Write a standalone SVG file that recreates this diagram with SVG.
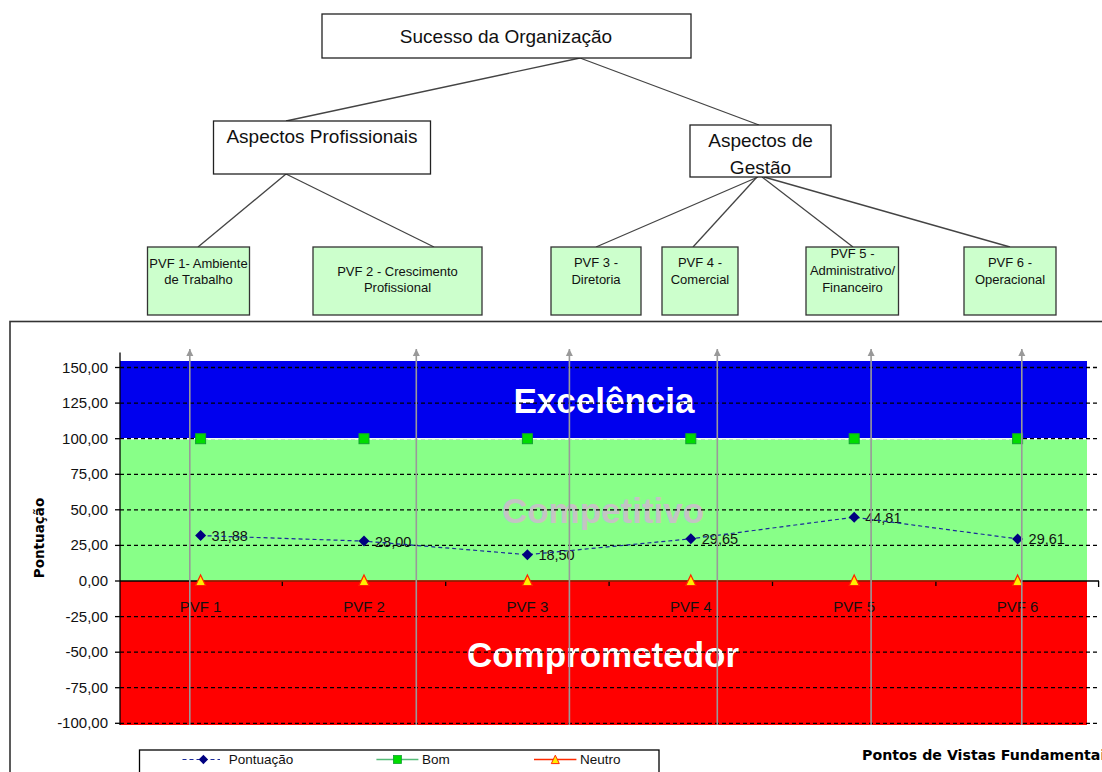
<svg xmlns="http://www.w3.org/2000/svg" width="1102" height="772" viewBox="0 0 1102 772">
  <style>
    .box { fill: #ffffff; stroke: #222; stroke-width: 1.3; }
    .pvf { fill: #ccffcc; stroke: #333; stroke-width: 1.3; }
    .t19 { font-family: "Liberation Sans", Arial, sans-serif; font-size: 19px; fill: #111; text-anchor: middle; }
    .t13 { font-family: "Liberation Sans", Arial, sans-serif; font-size: 13px; fill: #111; text-anchor: middle; }
    .edge { stroke: #444; stroke-width: 1.3; fill: none; }
    .grid { stroke: #000; stroke-width: 1.3; stroke-dasharray: 4 3; }
    .ylab { font-family: "Liberation Sans", Arial, sans-serif; font-size: 15px; fill: #111; text-anchor: end; }
    .xlab { font-family: "Liberation Sans", Arial, sans-serif; font-size: 15px; fill: #111; text-anchor: middle; }
    .vlab { font-family: "Liberation Sans", Arial, sans-serif; font-size: 14.5px; fill: #111; }
    .band { font-family: "Liberation Sans", Arial, sans-serif; font-size: 35px; font-weight: bold; text-anchor: middle; }
    .guide { stroke: #999; stroke-width: 1.6; marker-end: url(#up); }
    .leg { font-family: "Liberation Sans", Arial, sans-serif; font-size: 13.5px; fill: #111; }
    .ttl { font-family: "DejaVu Sans", Verdana, sans-serif; font-size: 13.5px; font-weight: bold; fill: #000; }
  </style>
  <defs>
    <marker id="up" viewBox="0 0 10 10" refX="10" refY="5" markerUnits="userSpaceOnUse" markerWidth="7" markerHeight="8" orient="auto">
      <path d="M0,0 L10,5 L0,10 z" fill="#999"/>
    </marker>
    <path id="dia" d="M0,-5.5 L5.5,0 L0,5.5 L-5.5,0 z" fill="#000080"/>
    <rect id="sq" x="-5" y="-5" width="10" height="10" fill="#00dd00" stroke="#10a030" stroke-width="1"/>
    <path id="tri" d="M0,-6 L5,4.5 L-5,4.5 z" fill="#ffee00" stroke="#ff2200" stroke-width="1.2"/>
  </defs>

  <rect width="1102" height="772" fill="#ffffff"/>

  <!-- hierarchy connectors -->
  <g id="connectors">
    <line class="edge" x1="580" y1="58" x2="286" y2="121"/>
    <line class="edge" x1="580" y1="58" x2="759" y2="125"/>
    <line class="edge" x1="286" y1="174" x2="198" y2="247"/>
    <line class="edge" x1="286" y1="174" x2="434" y2="247"/>
    <line class="edge" x1="758" y1="177" x2="596" y2="247"/>
    <line class="edge" x1="757" y1="177" x2="693" y2="247"/>
    <line class="edge" x1="762" y1="177" x2="853" y2="247"/>
    <line class="edge" x1="764" y1="177" x2="1010" y2="247"/>
  </g>

  <g id="sucesso">
    <rect class="box" x="322" y="14" width="369" height="44"/>
    <text class="t19" x="506" y="43">Sucesso da Organização</text>
  </g>
  <g id="aspectos-profissionais">
    <rect class="box" x="213.5" y="121" width="217" height="53"/>
    <text class="t19" x="322" y="143">Aspectos Profissionais</text>
  </g>
  <g id="aspectos-gestao">
    <rect class="box" x="690" y="125" width="141" height="52"/>
    <text class="t19" x="760.5" y="147">Aspectos de</text>
    <text class="t19" x="760.5" y="174">Gestão</text>
  </g>

  <g id="pvf1">
    <rect class="pvf" x="147.5" y="247" width="102" height="68"/>
    <text class="t13" x="198.5" y="268">PVF 1- Ambiente</text>
    <text class="t13" x="198.5" y="284">de Trabalho</text>
  </g>
  <g id="pvf2">
    <rect class="pvf" x="313" y="247" width="169" height="68"/>
    <text class="t13" x="397.5" y="276">PVF 2 - Crescimento</text>
    <text class="t13" x="397.5" y="292">Profissional</text>
  </g>
  <g id="pvf3">
    <rect class="pvf" x="551" y="247" width="90" height="68"/>
    <text class="t13" x="596" y="267">PVF 3 -</text>
    <text class="t13" x="596" y="284">Diretoria</text>
  </g>
  <g id="pvf4">
    <rect class="pvf" x="662" y="247" width="76" height="68"/>
    <text class="t13" x="700" y="267">PVF 4 -</text>
    <text class="t13" x="700" y="284">Comercial</text>
  </g>
  <g id="pvf5">
    <rect class="pvf" x="806" y="247" width="92.5" height="68"/>
    <text class="t13" x="852.5" y="258">PVF 5 -</text>
    <text class="t13" x="852.5" y="275">Administrativo/</text>
    <text class="t13" x="852.5" y="292">Financeiro</text>
  </g>
  <g id="pvf6">
    <rect class="pvf" x="964" y="247" width="92" height="68"/>
    <text class="t13" x="1010" y="267">PVF 6 -</text>
    <text class="t13" x="1010" y="284">Operacional</text>
  </g>

  <!-- chart frame -->
  <rect x="10" y="321.5" width="1110" height="470" fill="none" stroke="#333" stroke-width="1.6"/>

  <!-- zone bands -->
  <g id="bands">
    <rect x="120" y="361" width="967" height="77.7" fill="#0000ee"/>
    <rect x="120" y="438.7" width="967" height="142.3" fill="#88ff88"/>
    <rect x="120" y="581" width="967" height="144" fill="#ff0000"/>
    <text class="band" x="604" y="413" fill="#ffffff">Excelência</text>
    <text class="band" x="603" y="523" fill="#c4c4c4">Competitivo</text>
    <text class="band" x="603" y="667" fill="#ffffff">Comprometedor</text>
  </g>

  <!-- grid and axes -->
  <g id="grid">
    <line x1="120" y1="438.7" x2="1087" y2="438.7" stroke="#ffffff" stroke-width="1.6"/>
    <line class="grid" x1="120" y1="367.5" x2="1099" y2="367.5"/>
    <line class="grid" x1="120" y1="403.1" x2="1099" y2="403.1"/>
    <line class="grid" x1="120" y1="438.7" x2="1099" y2="438.7"/>
    <line class="grid" x1="120" y1="474.3" x2="1099" y2="474.3"/>
    <line class="grid" x1="120" y1="509.8" x2="1099" y2="509.8"/>
    <line class="grid" x1="120" y1="545.4" x2="1099" y2="545.4"/>
    <line class="grid" x1="120" y1="616.6" x2="1099" y2="616.6"/>
    <line class="grid" x1="120" y1="652.2" x2="1099" y2="652.2"/>
    <line class="grid" x1="120" y1="687.7" x2="1099" y2="687.7"/>
    <line class="grid" x1="120" y1="723.3" x2="1099" y2="723.3"/>
    <line x1="200.6" y1="438.7" x2="1017.6" y2="438.7" stroke="#f2fff2" stroke-width="1.6"/>
    <!-- axes -->
    <line x1="120" y1="352.5" x2="120" y2="725" stroke="#000" stroke-width="1.3"/>
    <line x1="120" y1="581" x2="1099" y2="581" stroke="#000" stroke-width="1.3"/>
    <line x1="1098.6" y1="581" x2="1098.6" y2="587" stroke="#000" stroke-width="1.3"/>
    <g stroke="#000" stroke-width="1.3">
      <line x1="115" y1="367.5" x2="120" y2="367.5"/>
      <line x1="115" y1="403.1" x2="120" y2="403.1"/>
      <line x1="115" y1="438.7" x2="120" y2="438.7"/>
      <line x1="115" y1="474.3" x2="120" y2="474.3"/>
      <line x1="115" y1="509.8" x2="120" y2="509.8"/>
      <line x1="115" y1="545.4" x2="120" y2="545.4"/>
      <line x1="115" y1="581" x2="120" y2="581"/>
      <line x1="115" y1="616.6" x2="120" y2="616.6"/>
      <line x1="115" y1="652.2" x2="120" y2="652.2"/>
      <line x1="115" y1="687.7" x2="120" y2="687.7"/>
      <line x1="115" y1="723.3" x2="120" y2="723.3"/>
      <line x1="282.3" y1="581" x2="282.3" y2="586"/>
      <line x1="445.7" y1="581" x2="445.7" y2="586"/>
      <line x1="609.1" y1="581" x2="609.1" y2="586"/>
      <line x1="772.5" y1="581" x2="772.5" y2="586"/>
      <line x1="935.9" y1="581" x2="935.9" y2="586"/>
    </g>
  </g>

  <g id="y-labels">
    <text class="ylab" x="108" y="372.5">150,00</text>
    <text class="ylab" x="108" y="408.1">125,00</text>
    <text class="ylab" x="108" y="443.7">100,00</text>
    <text class="ylab" x="108" y="479.3">75,00</text>
    <text class="ylab" x="108" y="514.8">50,00</text>
    <text class="ylab" x="108" y="550.4">25,00</text>
    <text class="ylab" x="108" y="586">0,00</text>
    <text class="ylab" x="108" y="621.6">-25,00</text>
    <text class="ylab" x="108" y="657.2">-50,00</text>
    <text class="ylab" x="108" y="692.7">-75,00</text>
    <text class="ylab" x="108" y="728.3">-100,00</text>
    <text class="ttl" transform="translate(44,538) rotate(-90)" text-anchor="middle">Pontuação</text>
  </g>

  <g id="x-labels">
    <text class="xlab" x="200.6" y="612">PVF 1</text>
    <text class="xlab" x="364" y="612">PVF 2</text>
    <text class="xlab" x="527.4" y="612">PVF 3</text>
    <text class="xlab" x="690.8" y="612">PVF 4</text>
    <text class="xlab" x="854.2" y="612">PVF 5</text>
    <text class="xlab" x="1017.6" y="612">PVF 6</text>
  </g>

  <!-- Neutro series (0) -->
  <g id="neutro">
    <line x1="200.6" y1="581" x2="1017.6" y2="581" stroke="#ff2a00" stroke-width="1.2"/>
    <use href="#tri" x="200.6" y="581"/>
    <use href="#tri" x="364" y="581"/>
    <use href="#tri" x="527.4" y="581"/>
    <use href="#tri" x="690.8" y="581"/>
    <use href="#tri" x="854.2" y="581"/>
    <use href="#tri" x="1017.6" y="581"/>
  </g>

  <!-- Bom series (100) -->
  <g id="bom">
    <use href="#sq" x="200.6" y="438.7"/>
    <use href="#sq" x="364" y="438.7"/>
    <use href="#sq" x="527.4" y="438.7"/>
    <use href="#sq" x="690.8" y="438.7"/>
    <use href="#sq" x="854.2" y="438.7"/>
    <use href="#sq" x="1017.6" y="438.7"/>
  </g>

  <!-- Pontuação series -->
  <g id="pontuacao">
    <text class="vlab" x="211.6" y="541">31,88</text>
    <text class="vlab" x="375" y="546.5">28,00</text>
    <text class="vlab" x="538.4" y="560">18,50</text>
    <text class="vlab" x="701.8" y="544.3">29,65</text>
    <text class="vlab" x="865.2" y="522.7">44,81</text>
    <text class="vlab" x="1028.6" y="544.4">29,61</text>
    <polyline points="200.6,535.6 364,541.1 527.4,554.7 690.8,538.8 854.2,517.2 1017.6,538.9" fill="none" stroke="#1a2a9a" stroke-width="1.2" stroke-dasharray="4 3"/>
    <use href="#dia" x="200.6" y="535.6"/>
    <use href="#dia" x="364" y="541.1"/>
    <use href="#dia" x="527.4" y="554.7"/>
    <use href="#dia" x="690.8" y="538.8"/>
    <use href="#dia" x="854.2" y="517.2"/>
    <use href="#dia" x="1017.6" y="538.9"/>
  </g>

  <!-- guide arrows from the chart up to each PVF -->
  <g id="guides">
    <line class="guide" x1="189.8" y1="725" x2="189.8" y2="349"/>
    <line class="guide" x1="416.3" y1="725" x2="416.3" y2="349"/>
    <line class="guide" x1="569.4" y1="725" x2="569.4" y2="349"/>
    <line class="guide" x1="717.3" y1="725" x2="717.3" y2="349"/>
    <line class="guide" x1="871.1" y1="725" x2="871.1" y2="349"/>
    <line class="guide" x1="1021.8" y1="725" x2="1021.8" y2="349"/>
  </g>

  <!-- legend -->
  <g id="legend">
    <rect x="139.5" y="750" width="519.5" height="40" fill="#ffffff" stroke="#000" stroke-width="1.3"/>
    <line x1="182.5" y1="759.5" x2="220" y2="759.5" stroke="#1a2a9a" stroke-width="1.2" stroke-dasharray="4 3"/>
    <use href="#dia" x="203.4" y="759.5" transform="translate(203.4,759.5) scale(0.85) translate(-203.4,-759.5)"/>
    <text class="leg" x="228.7" y="764">Pontuação</text>
    <line x1="376.4" y1="759.5" x2="418.4" y2="759.5" stroke="#55bb77" stroke-width="1.3"/>
    <use href="#sq" x="397.4" y="759.5" transform="translate(397.4,759.5) scale(0.8) translate(-397.4,-759.5)"/>
    <text class="leg" x="422" y="764">Bom</text>
    <line x1="534" y1="759.5" x2="576.4" y2="759.5" stroke="#ff2a00" stroke-width="1.3"/>
    <use href="#tri" x="555.3" y="760" transform="translate(555.3,760) scale(0.8) translate(-555.3,-760)"/>
    <text class="leg" x="580" y="764">Neutro</text>
  </g>
  <text class="ttl" x="862" y="760" style="font-size:14.2px">Pontos de Vistas Fundamentais</text>
</svg>
